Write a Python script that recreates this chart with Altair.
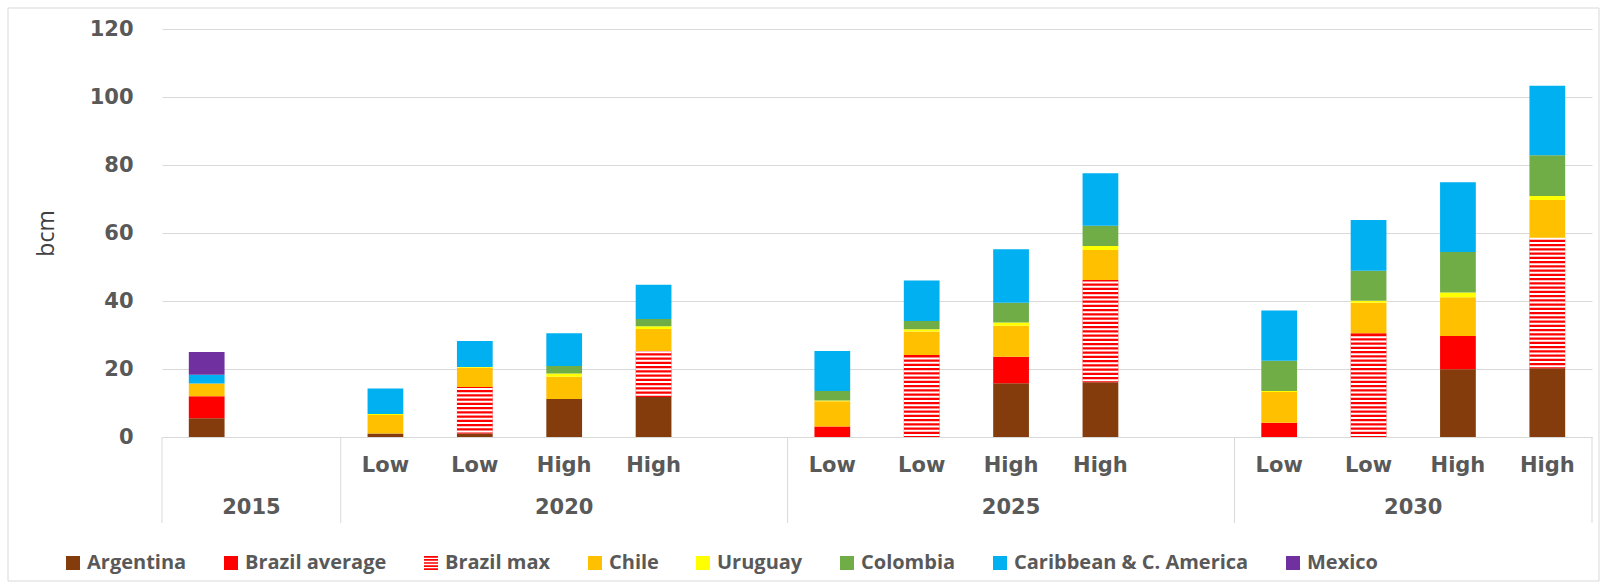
import altair as alt
import pandas as pd

# ---------------- data ----------------
countries = ["Argentina", "Brazil average", "Brazil max", "Chile", "Uruguay",
             "Colombia", "Caribbean & C. America", "Mexico"]
colors = ["#843C0C", "#FF0000", "#FF0000", "#FFC000", "#FFFF00",
          "#70AD47", "#00B0F0", "#7030A0"]

years = ["2015", "2020", "2025", "2030"]
scenarios = {
    "2015": [""],
    "2020": ["Low", "Low", "High", "High"],
    "2025": ["Low", "Low", "High", "High"],
    "2030": ["Low", "Low", "High", "High"],
}

# one value per bar: 2015 | 2020 L L H H | 2025 L L H H | 2030 L L H H
argentina = [5.5, 1.0, 1.0, 11.2, 11.8, 0.0, 0.0, 15.8, 16.1, 0.0, 0.0, 19.9, 20.2]
brazil_avg = [6.5, 0.0, 0.0, 0.0, 0.0, 3.1, 0.0, 7.8, 0.0, 4.2, 0.0, 9.8, 0.0]
brazil_max = [0.0, 0.0, 13.7, 0.0, 13.5, 0.0, 24.1, 0.0, 30.1, 0.0, 30.5, 0.0, 38.2]
chile = [3.7, 5.5, 5.7, 6.5, 6.5, 7.4, 6.9, 9.1, 8.8, 9.0, 9.0, 11.4, 11.3]
uruguay = [0.0, 0.3, 0.2, 1.0, 0.8, 0.2, 0.7, 1.0, 1.2, 0.3, 0.6, 1.4, 1.2]
colombia = [0.0, 0.0, 0.0, 2.2, 2.1, 2.8, 2.4, 5.8, 5.9, 8.9, 8.8, 11.9, 12.0]
caribbean = [2.6, 7.5, 7.6, 9.6, 10.1, 11.8, 11.9, 15.7, 15.5, 14.8, 14.9, 20.5, 20.4]
mexico = [6.7, 0.0, 0.0, 0.0, 0.0, 0.0, 0.0, 0.0, 0.0, 0.0, 0.0, 0.0, 0.0]

series = [argentina, brazil_avg, brazil_max, chile, uruguay, colombia, caribbean, mexico]
y_ticks = [0, 20, 40, 60, 80, 100, 120]

# ---------------- layout helpers ----------------
W, H = 1430, 408
GRAY = "#595959"
LINE = "#D9D9D9"
BAR_HALF = 0.2          # half bar width in slot units
STRIPE_P = 1.25         # stripe period (bcm)

slots, labels, bounds, group_rows = [], [], [], []
s = 0
for gi, yr in enumerate(years):
    start = s
    for sc in scenarios[yr]:
        slots.append(s)
        labels.append(sc)
        s += 1
    if gi < len(years) - 1:
        s += 1
    bounds.append(start)
    group_rows.append({"xc": (start + s) / 2, "label": yr})
bounds.append(s)
n_slots = s

rows, stripes = [], []
for b, slot in enumerate(slots):
    cum = 0.0
    for ci, c in enumerate(countries):
        v = series[ci][b]
        if v > 0:
            rows.append({"country": c, "ord": ci, "x0": slot + 0.5 - BAR_HALF,
                         "x1": slot + 0.5 + BAR_HALF, "y0": cum, "y1": cum + v})
            if c == "Brazil max":
                k = 0
                while (k + 0.5) * STRIPE_P < v:
                    stripes.append({"x0": slot + 0.5 - BAR_HALF, "x1": slot + 0.5 + BAR_HALF,
                                    "y": cum + (k + 0.5) * STRIPE_P})
                    k += 1
            cum += v

bars_df = pd.DataFrame(rows)
stripes_df = pd.DataFrame(stripes)
scen_df = pd.DataFrame({"xc": [sl + 0.5 for sl in slots], "label": labels})
group_df = pd.DataFrame(group_rows)
bounds_df = pd.DataFrame({"xb": bounds})
legend_df = pd.DataFrame({"country": countries, "xc": [0.5] * len(countries), "v": [0] * len(countries)})

STRIPES = ("M-1,-1H1V-0.76H-1Z M-1,-0.56H1V-0.32H-1Z M-1,-0.12H1V0.12H-1Z "
           "M-1,0.32H1V0.56H-1Z M-1,0.76H1V1H-1Z")
shapes = ["square" if c != "Brazil max" else STRIPES for c in countries]

xscale = alt.Scale(domain=[0, n_slots], nice=False, zero=False)
yscale = alt.Scale(domain=[0, 120], nice=False)

color_scale = alt.Scale(domain=countries, range=colors)
shape_scale = alt.Scale(domain=countries, range=shapes)

legend = alt.Legend(
    title=None, orient="none", legendX=-99, legendY=524, direction="horizontal",
    columns=len(countries), labelFont="Open Sans", labelFontWeight="bold",
    labelFontSize=20, labelColor=GRAY, labelLimit=0, symbolSize=196, symbolOpacity=1,
    symbolStrokeWidth=0, labelOffset=4, columnPadding=34,
)

base_x = alt.X("x0:Q", scale=xscale,
               axis=alt.Axis(labels=False, ticks=False, grid=False, title=None,
                             domainColor=LINE, domainWidth=1))

bars = alt.Chart(bars_df).mark_bar(strokeWidth=0).encode(
    x=base_x,
    x2="x1:Q",
    y=alt.Y("y0:Q", scale=yscale,
            axis=alt.Axis(values=y_ticks, title="bcm", domain=False, ticks=False,
                          gridColor=LINE, labelFont="DejaVu Sans", labelFontWeight="bold",
                          labelFontSize=21, labelColor=GRAY, labelPadding=29,
                          titleFont="Open Sans", titleFontWeight="normal", titleFontSize=23,
                          titleColor="#404040", titlePadding=31)),
    y2="y1:Q",
    color=alt.Color("country:N", scale=color_scale, legend=legend),
)

stripe_layer = alt.Chart(stripes_df).mark_rule(color="white", strokeWidth=2).encode(
    x=alt.X("x0:Q", scale=xscale),
    x2="x1:Q",
    y=alt.Y("y:Q", scale=yscale),
)

dividers = alt.Chart(bounds_df).mark_rule(color=LINE, strokeWidth=1).encode(
    x=alt.X("xb:Q", scale=xscale),
    y=alt.value(H),
    y2=alt.value(H + 86),
)

scen_text = alt.Chart(scen_df).mark_text(
    font="DejaVu Sans", fontWeight="bold", fontSize=21, color=GRAY, baseline="middle"
).encode(x=alt.X("xc:Q", scale=xscale), y=alt.value(H + 29), text="label:N")

group_text = alt.Chart(group_df).mark_text(
    font="DejaVu Sans", fontWeight="bold", fontSize=21, color=GRAY, baseline="middle"
).encode(x=alt.X("xc:Q", scale=xscale), y=alt.value(H + 71), text="label:N")

legend_pts = alt.Chart(legend_df).mark_point(filled=True, opacity=0).encode(
    x=alt.X("xc:Q", scale=xscale),
    y=alt.Y("v:Q", scale=yscale),
    color=alt.Color("country:N", scale=color_scale, legend=legend),
    shape=alt.Shape("country:N", scale=shape_scale, legend=legend),
)

border = alt.Chart(pd.DataFrame({"a": [0]})).mark_rect(
    fillOpacity=0, stroke=LINE, strokeWidth=1
).encode(x=alt.value(-154), x2=alt.value(1437), y=alt.value(-21), y2=alt.value(552))

chart = alt.layer(border, bars, stripe_layer, dividers, scen_text, group_text, legend_pts).properties(
    width=W, height=H,
    autosize=alt.AutoSizeParams(type="none"),
    padding={"left": 162, "top": 29, "right": 10, "bottom": 147},
    background="white",
).configure_view(stroke=None)

chart.save("out.html", embed_options={"renderer": "svg", "actions": False})
